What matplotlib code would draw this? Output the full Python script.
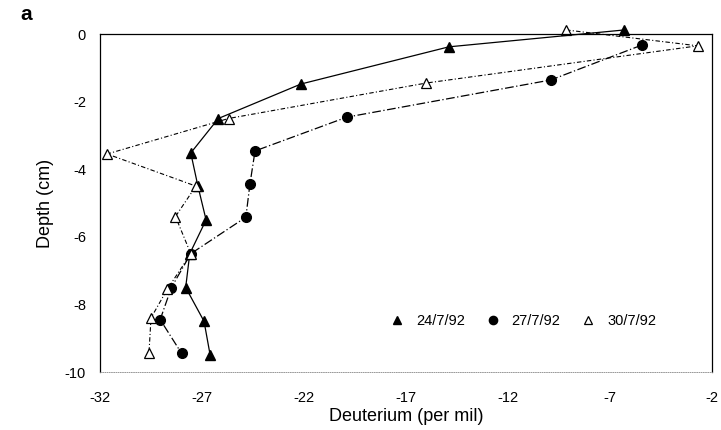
import matplotlib.pyplot as plt

plt.rcParams['font.family'] = ['Liberation Sans', 'DejaVu Sans']

# Deuterium profiles with depth for three sampling dates
d_24 = [-6.3, -14.9, -22.15, -26.2, -27.55, -27.2, -26.8, -27.6, -27.8, -26.9, -26.6]
z_24 = [0.12, -0.38, -1.48, -2.5, -3.52, -4.5, -5.5, -6.5, -7.5, -8.5, -9.5]

d_27 = [-5.45, -9.9, -19.9, -24.4, -24.65, -24.85, -27.55, -28.5, -29.05, -28.0]
z_27 = [-0.33, -1.36, -2.46, -3.46, -4.44, -5.42, -6.5, -7.5, -8.45, -9.45]

d_30 = [-9.15, -2.7, -16.0, -25.7, -31.65, -27.3, -28.3, -27.55, -28.7, -29.5, -29.6]
z_30 = [0.12, -0.35, -1.45, -2.5, -3.55, -4.5, -5.4, -6.5, -7.55, -8.4, -9.45]

x_ticks = [-32, -27, -22, -17, -12, -7, -2]
y_ticks = [0, -2, -4, -6, -8, -10]

fig = plt.figure(figsize=(7.21, 4.30), dpi=100)
ax = fig.add_axes([100 / 721, 1 - 372 / 430, 612 / 721, 338 / 430])

ax.plot(d_24, z_24, color='black', lw=0.9, ls='-', marker='^', ms=7.5,
        mfc='black', mec='black', label='24/7/92', clip_on=False)
ax.plot(d_27, z_27, color='black', lw=0.9, ls=(0, (7, 2, 1, 2)), marker='o', ms=7,
        mfc='black', mec='black', label='27/7/92', clip_on=False)
ax.plot(d_30, z_30, color='black', lw=0.8, ls=(0, (4, 2, 1, 2)), marker='^', ms=7,
        mfc='white', mec='black', mew=0.9, label='30/7/92', clip_on=False)

ax.set_xlim(-32, -2)
ax.set_ylim(-10, 0)
ax.set_xticks(x_ticks)
ax.set_yticks(y_ticks)
ax.set_xticklabels([str(v) for v in x_ticks])
ax.set_yticklabels([str(v) for v in y_ticks])
ax.tick_params(axis='both', length=0, labelsize=10.5)
ax.tick_params(axis='x', pad=14)
ax.tick_params(axis='y', pad=10)

for side in ['top', 'right', 'left']:
    ax.spines[side].set_linewidth(0.9)
ax.spines['bottom'].set_linestyle(':')
ax.spines['bottom'].set_linewidth(0.6)
ax.spines['bottom'].set_color('#888888')

ax.set_xlabel('Deuterium (per mil)', fontsize=13, labelpad=2)
ax.set_ylabel('Depth (cm)', fontsize=13, labelpad=8)

leg = ax.legend(loc='lower right', bbox_to_anchor=(0.93, 0.09), ncol=3, frameon=False,
                fontsize=10.5, handlelength=1.0, handletextpad=0.8, columnspacing=1.4,
                markerscale=0.85)
for line in leg.get_lines():
    line.set_linestyle('none')

fig.text(20 / 721, 1 - 15 / 430, 'a', fontsize=15, fontweight='bold', va='center')

fig.savefig('out.png', dpi=100)
